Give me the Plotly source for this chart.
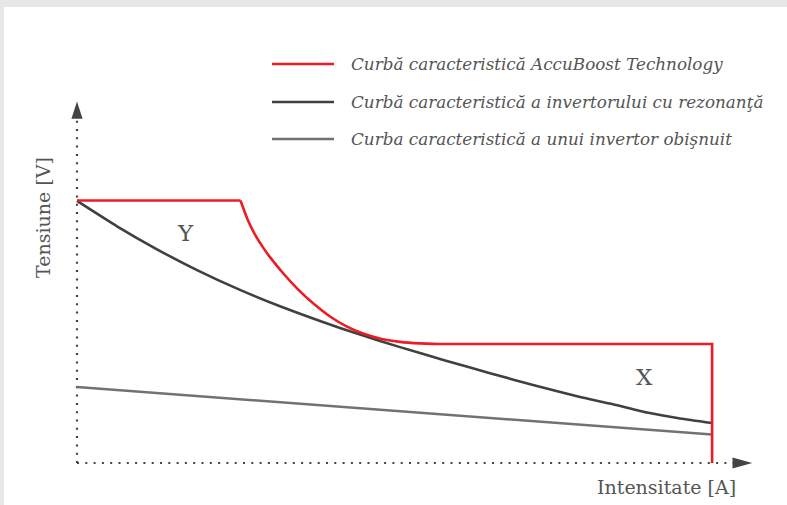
import plotly.graph_objects as go

# ---------------- data (arbitrary units: current 0..100, voltage 0..100) ----------------
series_names = [
    "Curbă caracteristică AccuBoost Technology",
    "Curbă caracteristică a invertorului cu rezonanţă",
    "Curba caracteristică a unui invertor obişnuit",
]
series_colors = ["#ED1C24", "#404040", "#727275"]

# AccuBoost: flat part, curved drop, flat part, vertical cut-off
accu_flat1_x = [0.0, 24.04]
accu_flat1_y = [72.92, 72.92]
accu_curve_x = [24.04, 25.15, 26.18, 27.28, 28.38, 30.44, 32.5, 34.85, 37.21,
                39.63, 42.06, 44.78, 47.5, 50.44, 53.38]
accu_curve_y = [72.92, 67.36, 63.44, 60.11, 57.19, 52.43, 48.25, 44.14, 40.69,
                37.94, 35.97, 34.47, 33.64, 33.22, 33.06]
accu_flat2_x = [53.38, 93.4, 93.4]
accu_flat2_y = [33.06, 33.06, 0.0]

# resonant inverter
res_x = [0.0, 5.88, 11.76, 17.65, 23.97, 29.85, 35.74, 41.62, 47.5, 54.12, 60.74,
         67.35, 73.97, 78.82, 83.82, 88.68, 93.4]
res_y = [72.8, 65.75, 59.36, 53.58, 48.08, 43.53, 39.42, 35.67, 32.19, 28.5, 24.94,
         21.53, 18.33, 16.33, 14.0, 12.36, 11.11]

# ordinary inverter
ord_x = [0.0, 93.4]
ord_y = [21.1, 7.9]

axis_x_title = "Intensitate [A]"
axis_y_title = "Tensiune [V]"
zone_labels = ["Y", "X"]
zone_x = [16.0, 83.5]
zone_y = [63.9, 23.9]

# ---------------- layout geometry ----------------
W, H = 787, 505
ML, MR, MT, MB = 70, 27, 98, 35
PW, PH = W - ML - MR, H - MT - MB
X0PX, Y0PX = 77, 463          # pixel of data origin
SX, SY = 6.8, 3.6              # px per data unit
xr = [-(X0PX - ML) / SX, (W - MR - X0PX) / SX]
yr = [-(H - MB - Y0PX) / SY, (Y0PX - MT) / SY]


def px(xp):
    return (xp - ML) / PW


def py(yp):
    return (H - MB - yp) / PH


serif = "DejaVu Serif"
text_col = "#555555"
axis_col = "#444444"

fig = go.Figure()
lw = 2.6
fig.add_trace(go.Scatter(x=ord_x, y=ord_y, mode="lines", line=dict(color=series_colors[2], width=lw),
                         name=series_names[2], showlegend=False))
fig.add_trace(go.Scatter(x=res_x, y=res_y, mode="lines",
                         line=dict(color=series_colors[1], width=lw, shape="spline", smoothing=0.5),
                         name=series_names[1], showlegend=False))
fig.add_trace(go.Scatter(x=accu_flat1_x, y=accu_flat1_y, mode="lines", line=dict(color=series_colors[0], width=lw),
                         name=series_names[0], showlegend=False))
fig.add_trace(go.Scatter(x=accu_curve_x, y=accu_curve_y, mode="lines",
                         line=dict(color=series_colors[0], width=lw, shape="spline", smoothing=0.5),
                         name=series_names[0], showlegend=False))
fig.add_trace(go.Scatter(x=accu_flat2_x, y=accu_flat2_y, mode="lines", line=dict(color=series_colors[0], width=lw),
                         name=series_names[0], showlegend=False))

shapes = []
# white card on light grey page
shapes.append(dict(type="rect", xref="paper", yref="paper", x0=px(4), x1=px(W + 10), y0=py(H + 10), y1=py(7),
                   fillcolor="white", line=dict(width=0), layer="below"))
# dotted axes
dots = "2px,6.3px"
shapes.append(dict(type="line", xref="x", yref="y", x0=0, y0=0, x1=0, y1=95.8,
                   line=dict(color=axis_col, width=2.2, dash=dots), layer="below"))
shapes.append(dict(type="line", xref="x", yref="y", x0=0, y0=0, x1=96.5, y1=0,
                   line=dict(color=axis_col, width=2.2, dash=dots), layer="below"))
# arrow heads
shapes.append(dict(type="path", xref="x", yref="y",
                   path="M -0.82 95.6 L 0 100.4 L 0.82 95.6 Z",
                   fillcolor=axis_col, line=dict(width=0)))
shapes.append(dict(type="path", xref="x", yref="y",
                   path="M 96.4 1.55 L 99.3 0 L 96.4 -1.55 Z",
                   fillcolor=axis_col, line=dict(width=0)))

annotations = []
# manual legend
leg_y = [64, 102, 139]
for name, col, yy in zip(series_names, series_colors, leg_y):
    shapes.append(dict(type="line", xref="paper", yref="paper", x0=px(272), x1=px(334), y0=py(yy), y1=py(yy),
                       line=dict(color=col, width=2.6)))
    annotations.append(dict(xref="paper", yref="paper", x=px(349), y=py(yy), xanchor="left", yanchor="middle",
                            text=name, showarrow=False,
                            font=dict(family=serif, size=16.8, color=text_col, style="italic")))

# axis titles
annotations.append(dict(xref="paper", yref="paper", x=px(738), y=py(487), xanchor="right", yanchor="middle",
                        text=axis_x_title, showarrow=False, font=dict(family=serif, size=19, color=text_col)))
annotations.append(dict(xref="paper", yref="paper", x=px(43), y=py(218), xanchor="center", yanchor="middle",
                        text=axis_y_title, textangle=-90, showarrow=False,
                        font=dict(family=serif, size=19, color=text_col)))
# zone labels
for t, zx, zy in zip(zone_labels, zone_x, zone_y):
    annotations.append(dict(xref="x", yref="y", x=zx, y=zy, text=t, showarrow=False,
                            font=dict(family=serif, size=23, color=text_col)))

fig.update_layout(
    width=W, height=H,
    margin=dict(l=ML, r=MR, t=MT, b=MB, pad=0),
    paper_bgcolor="#E6E7E8",
    plot_bgcolor="rgba(0,0,0,0)",
    showlegend=False,
    xaxis=dict(range=xr, visible=False, fixedrange=True),
    yaxis=dict(range=yr, visible=False, fixedrange=True),
    shapes=shapes,
    annotations=annotations,
)

fig.write_html("out.html", config={"displayModeBar": False},
               post_script="document.body.style.margin='0';document.body.style.overflow='hidden';")
